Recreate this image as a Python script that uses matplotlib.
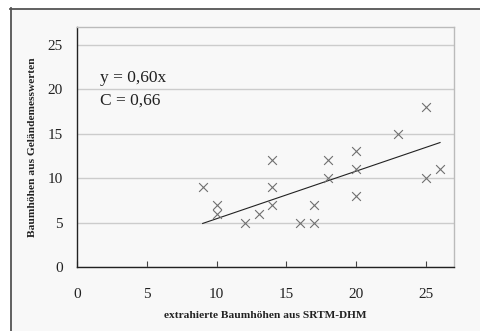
import matplotlib
matplotlib.use("Agg")
import matplotlib.pyplot as plt
from matplotlib.lines import Line2D

# ===================== DATEN =====================

srtm_hoehe = [9, 10, 10, 12, 13, 14, 14, 14, 16, 17, 17, 18, 18, 20, 20, 20, 23, 25, 25, 26]
gelaende_hoehe = [9, 7, 6, 5, 6, 12, 9, 7, 5, 5, 7, 12, 10, 13, 11, 8, 15, 18, 10, 11]

trend_x = [9, 26]
trend_y = [4.9, 14.0]

x_ticks = [0, 5, 10, 15, 20, 25]
y_ticks = [0, 5, 10, 15, 20, 25]

formel_text = "y = 0,60x"
korr_text = "C = 0,66"

BG = "#f8f8f8"
SERIF = ["Liberation Serif", "DejaVu Serif"]

# ===================== PLOT =====================

fig = plt.figure(figsize=(4.8, 3.31), dpi=100, facecolor="white")
fig.patches.append(plt.Rectangle((10 / 480, 0), 1, 1 - 8 / 331,
                                 transform=fig.transFigure, facecolor=BG,
                                 edgecolor="none", zorder=-10))
fig.lines.append(Line2D([10.5 / 480, 10.5 / 480], [0, 1 - 8 / 331],
                        transform=fig.transFigure, color="#555555", lw=1.3))
fig.lines.append(Line2D([10 / 480, 1], [1 - 8.5 / 331, 1 - 8.5 / 331],
                        transform=fig.transFigure, color="#555555", lw=1.3))

ax = fig.add_axes([77 / 480, 1 - 267 / 331, (454 - 77) / 480, (267 - 27) / 331])
ax.set_facecolor(BG)

ax.scatter(srtm_hoehe, gelaende_hoehe, marker="x", s=40, color="#707070",
           linewidths=0.8, zorder=3)
ax.plot(trend_x, trend_y, color="#222222", lw=0.8, zorder=2)

ax.set_xlim(0, 27)
ax.set_ylim(0, 27)
ax.set_xticks(x_ticks)
ax.set_yticks(y_ticks)

ax.yaxis.grid(True, color="#cccccc", lw=1.0)
ax.set_axisbelow(True)

for side in ["top", "right"]:
    ax.spines[side].set_color("#bbbbbb")
    ax.spines[side].set_linewidth(1.0)
for side in ["left", "bottom"]:
    ax.spines[side].set_color("#222222")
    ax.spines[side].set_linewidth(1.0)

ax.tick_params(axis="x", direction="in", length=4, width=0.8, color="#444444",
               pad=15, labelsize=11, labelcolor="#222222")
ax.tick_params(axis="y", direction="in", length=0, pad=10, labelsize=11,
               labelcolor="#222222")
for lbl in ax.get_xticklabels() + ax.get_yticklabels():
    lbl.set_family(SERIF)

ax.set_xlabel("extrahierte Baumhöhen aus SRTM-DHM", family=SERIF,
              fontsize=8.2, fontweight="bold", labelpad=7, color="#222222")
ax.set_ylabel("Baumhöhen aus Geländemesswerten", family=SERIF,
              fontsize=8.2, fontweight="bold", labelpad=8, color="#222222")

ax.text(1.65, 21.3, formel_text, family=SERIF, fontsize=12.5, va="center",
        color="#222222")
ax.text(1.65, 18.7, korr_text, family=SERIF, fontsize=12.5, va="center",
        color="#222222")

fig.savefig("out.png", dpi=100, facecolor=fig.get_facecolor())
